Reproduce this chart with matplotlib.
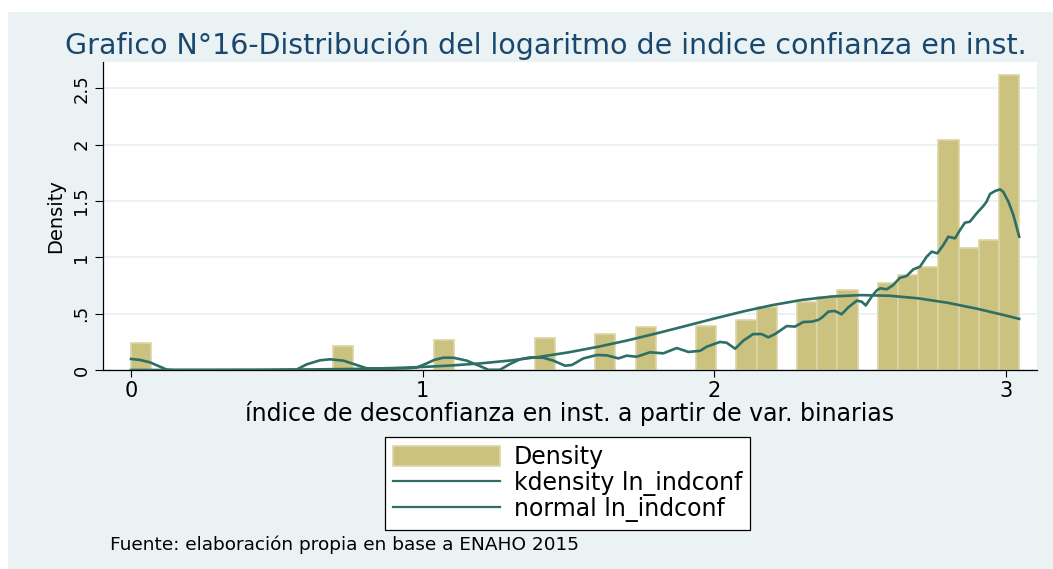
import matplotlib
matplotlib.use('Agg')
import matplotlib.pyplot as plt
from matplotlib.patches import Rectangle, Patch
from matplotlib.lines import Line2D
import numpy as np

BG = "#eaf2f3"
BAR = "#cbc280"
BAR_EDGE = "#dcd6a6"
LINE = "#2d6e66"
TITLE = "#1a476f"

# histogram of ln_indconf: 44 equal bins from 0 to ln(21)
bin_lo = 0.0
bin_hi = 3.0445
density = [
    0.237, 0, 0, 0, 0, 0, 0, 0, 0, 0,
    0.216, 0, 0, 0, 0, 0.266, 0, 0, 0, 0,
    0.282, 0, 0, 0.322, 0, 0.379, 0, 0, 0.393, 0,
    0.444, 0.556, 0, 0.600, 0.648, 0.710, 0, 0.769, 0.843, 0.914,
    2.044, 1.085, 1.150, 2.620,
]

# kdensity ln_indconf
kde_x = [0.000, 0.031, 0.065, 0.099, 0.122, 0.150, 0.300, 0.450, 0.568, 0.602,
         0.648, 0.682, 0.728, 0.774, 0.808, 0.850, 0.900, 0.950, 0.979, 1.014,
         1.040, 1.071, 1.105, 1.151, 1.196, 1.225, 1.265, 1.299, 1.334, 1.368,
         1.413, 1.448, 1.488, 1.511, 1.551, 1.597, 1.631, 1.671, 1.699, 1.734,
         1.779, 1.825, 1.871, 1.911, 1.951, 1.974, 2.019, 2.042, 2.071, 2.099,
         2.133, 2.162, 2.185, 2.208, 2.248, 2.276, 2.305, 2.334, 2.356, 2.368,
         2.391, 2.413, 2.436, 2.459, 2.488, 2.505, 2.519, 2.539, 2.556, 2.568,
         2.591, 2.613, 2.636, 2.659, 2.682, 2.705, 2.728, 2.745, 2.764, 2.785,
         2.802, 2.825, 2.842, 2.859, 2.876, 2.899, 2.922, 2.933, 2.945, 2.962,
         2.979, 2.990, 3.008, 3.025, 3.045]
kde_y = [0.098, 0.089, 0.068, 0.030, 0.004, 0.000, 0.000, 0.000, 0.004, 0.050,
         0.086, 0.095, 0.083, 0.044, 0.015, 0.012, 0.013, 0.015, 0.021, 0.059,
         0.090, 0.109, 0.109, 0.083, 0.035, 0.002, 0.002, 0.053, 0.095, 0.112,
         0.109, 0.083, 0.038, 0.044, 0.103, 0.133, 0.130, 0.103, 0.127, 0.118,
         0.157, 0.148, 0.195, 0.160, 0.170, 0.207, 0.249, 0.242, 0.189, 0.260,
         0.319, 0.319, 0.290, 0.319, 0.390, 0.385, 0.426, 0.429, 0.444, 0.464,
         0.518, 0.524, 0.494, 0.556, 0.615, 0.606, 0.573, 0.650, 0.705, 0.725,
         0.716, 0.754, 0.818, 0.834, 0.893, 0.917, 1.006, 1.050, 1.035, 1.109,
         1.183, 1.168, 1.242, 1.307, 1.316, 1.390, 1.455, 1.493, 1.562, 1.588,
         1.603, 1.582, 1.493, 1.375, 1.183]

# normal ln_indconf
norm_x = [0.0, 0.25, 0.5, 0.75, 0.8, 0.9, 1.0, 1.1, 1.2, 1.3, 1.4, 1.5, 1.6,
          1.7, 1.8, 1.9, 2.0, 2.1, 2.2, 2.3, 2.4, 2.5, 2.6, 2.7, 2.8, 2.9,
          3.0, 3.045]
norm_y = [0.0001, 0.0005, 0.0023, 0.0086, 0.0109, 0.0174, 0.0269, 0.0404,
          0.0591, 0.0842, 0.1165, 0.1567, 0.2053, 0.2613, 0.3237, 0.3898,
          0.4567, 0.5204, 0.5767, 0.6217, 0.6517, 0.6645, 0.6590, 0.6357,
          0.5963, 0.5441, 0.4828, 0.4535]

x_ticks = [0, 1, 2, 3]
y_ticks = [0, 0.5, 1, 1.5, 2, 2.5]
y_tick_labels = ["0", ".5", "1", "1.5", "2", "2.5"]

W, H = 1053, 569
fig = plt.figure(figsize=(W / 100, H / 100), dpi=100, facecolor="white")
fig.add_artist(Rectangle((8 / W, 0), 1 - 8 / W, 1 - 12 / H, transform=fig.transFigure,
                         facecolor=BG, edgecolor="none", zorder=-10))

ax = fig.add_axes([103 / W, 1 - 370 / H, (1037 - 103) / W, (370 - 62) / H])
ax.set_facecolor("white")

edges = np.linspace(bin_lo, bin_hi, len(density) + 1)
keep = [i for i, d in enumerate(density) if d > 0]
ax.bar(edges[keep], [density[i] for i in keep], width=edges[1] - edges[0], align="edge",
       color=BAR, edgecolor=BAR_EDGE, linewidth=1.2, zorder=2)
ax.plot(kde_x, kde_y, color=LINE, lw=1.9, zorder=3)
ax.plot(norm_x, norm_y, color=LINE, lw=1.9, zorder=3)

ax.set_xlim(-0.096, 3.106)
ax.set_ylim(0, 2.733)
ax.set_xticks(x_ticks)
ax.set_xticklabels([str(t) for t in x_ticks], fontsize=15)
ax.set_yticks(y_ticks)
ax.set_yticklabels(y_tick_labels, fontsize=13, rotation=90, va="center")
ax.tick_params(axis="x", length=5, width=0.8, pad=3)
ax.tick_params(axis="y", length=6, width=0.8, pad=3)
ax.yaxis.grid(True, color=BG, lw=1.4)
ax.set_axisbelow(True)
for s in ["top", "right"]:
    ax.spines[s].set_visible(False)
for s in ["left", "bottom"]:
    ax.spines[s].set_linewidth(0.9)

ax.set_xlabel("índice de desconfianza en inst. a partir de var. binarias", fontsize=17, va="center")
ax.xaxis.set_label_coords(0.5, (370 - 413) / 308)
ax.set_ylabel("Density", fontsize=14, va="center")
ax.yaxis.set_label_coords((56 - 103) / 934, 0.5)

fig.text(546 / W, 1 - 45 / H, "Grafico N°16-Distribución del logaritmo de indice confianza en inst.",
         ha="center", va="center", fontsize=20.5, color=TITLE)

handles = [Patch(facecolor=BAR, edgecolor=BAR_EDGE, linewidth=1.2),
           Line2D([], [], color=LINE, lw=1.6),
           Line2D([], [], color=LINE, lw=1.6)]
leg = fig.legend(handles, ["Density", "kdensity ln_indconf", "normal ln_indconf"],
                 loc="upper left", bbox_to_anchor=(385 / W, 1 - 437 / H), borderaxespad=0,
                 frameon=True, fancybox=False, edgecolor="black", facecolor="white", framealpha=1,
                 fontsize=17, handlelength=4.5, handleheight=0.95, handletextpad=0.6,
                 labelspacing=0.06, borderpad=0.35)
leg.get_frame().set_linewidth(0.9)

fig.text(110 / W, 1 - 545 / H, "Fuente: elaboración propia en base a ENAHO 2015",
         ha="left", va="center", fontsize=13.3)

fig.savefig("out.png", dpi=100, facecolor="white")
